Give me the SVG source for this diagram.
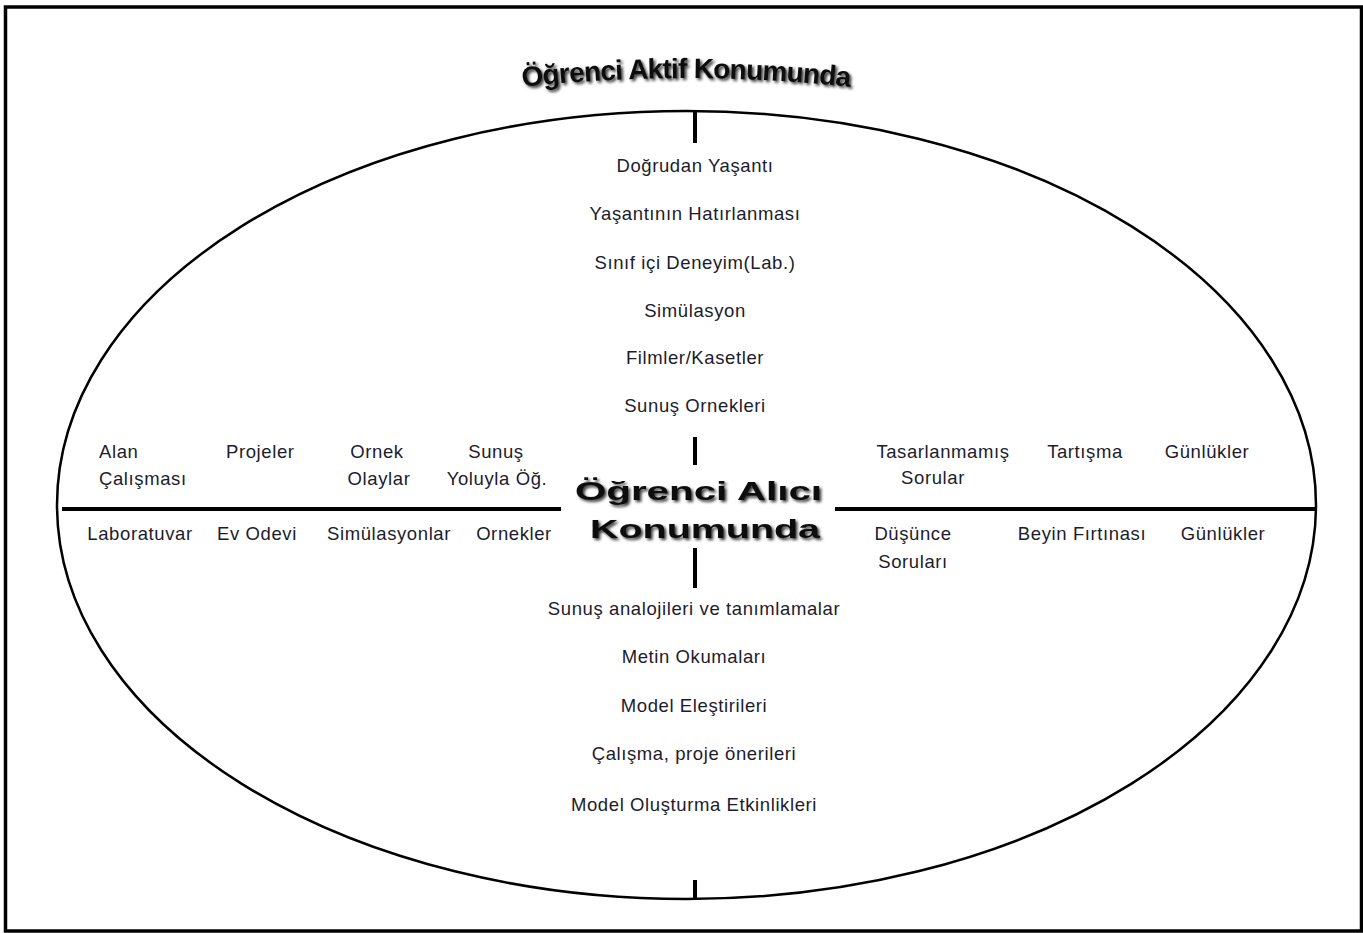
<svg xmlns="http://www.w3.org/2000/svg" width="1363" height="933" viewBox="0 0 1363 933">
<style>
.t{font-family:"Liberation Sans",Arial,sans-serif;font-size:18.5px;letter-spacing:0.6px;fill:#1c1c2c}
.m{text-anchor:middle}
.h{font-family:"Liberation Sans",Arial,sans-serif;font-weight:bold;fill:#111}
.ln{stroke:#000;stroke-width:4;fill:none}
</style>
<defs>
<filter id="sh" x="-10%" y="-30%" width="120%" height="160%">
<feGaussianBlur in="SourceAlpha" stdDeviation="1.8" result="b"/>
<feOffset in="b" dx="2" dy="2" result="o"/>
<feComponentTransfer in="o" result="s"><feFuncA type="linear" slope="0.8"/></feComponentTransfer>
<feGaussianBlur in="SourceGraphic" stdDeviation="0.6" result="g"/>
<feMerge><feMergeNode in="s"/><feMergeNode in="g"/></feMerge>
</filter>
<path id="arc" d="M 496 90 A 1520 1520 0 0 1 876 90"/>
</defs>
<rect x="5.5" y="7" width="1356" height="924" fill="#fff" stroke="#000" stroke-width="3.5"/>
<g id="connectors">
<ellipse cx="686.5" cy="505" rx="629.5" ry="394" fill="none" stroke="#000" stroke-width="2.5"/>
<line class="ln" x1="62" y1="509" x2="561" y2="509"/>
<line class="ln" x1="835" y1="509" x2="1316" y2="509"/>
<line class="ln" x1="695" y1="111" x2="695" y2="143"/>
<line class="ln" x1="695" y1="437" x2="695" y2="465"/>
<line class="ln" x1="695" y1="548" x2="695" y2="588"/>
<line class="ln" x1="695" y1="880" x2="695" y2="899"/>
</g>
<g id="title" filter="url(#sh)">
<text class="h" font-size="28" letter-spacing="-0.8"><textPath href="#arc" startOffset="50%" text-anchor="middle">Öğrenci Aktif Konumunda</textPath></text>
</g>
<g id="center" filter="url(#sh)">
<text class="h" font-size="26" x="575" y="500" textLength="247" lengthAdjust="spacingAndGlyphs">Öğrenci Alıcı</text>
<text class="h" font-size="26" x="590" y="538" textLength="230" lengthAdjust="spacingAndGlyphs">Konumunda</text>
</g>
<g id="top-list">
<text class="t m" x="695" y="172">Doğrudan Yaşantı</text>
<text class="t m" x="695" y="220">Yaşantının Hatırlanması</text>
<text class="t m" x="695" y="269">Sınıf içi Deneyim(Lab.)</text>
<text class="t m" x="695" y="317">Simülasyon</text>
<text class="t m" x="695" y="364">Filmler/Kasetler</text>
<text class="t m" x="695" y="412">Sunuş Ornekleri</text>
</g>
<g id="bottom-list">
<text class="t m" x="694" y="615">Sunuş analojileri ve tanımlamalar</text>
<text class="t m" x="694" y="663">Metin Okumaları</text>
<text class="t m" x="694" y="712">Model Eleştirileri</text>
<text class="t m" x="694" y="760">Çalışma, proje önerileri</text>
<text class="t m" x="694" y="811">Model Oluşturma Etkinlikleri</text>
</g>
<g id="left-upper">
<text class="t" x="99" y="458">Alan</text>
<text class="t" x="99" y="485">Çalışması</text>
<text class="t" x="226" y="458">Projeler</text>
<text class="t m" x="377" y="458">Ornek</text>
<text class="t m" x="379" y="485">Olaylar</text>
<text class="t m" x="496" y="458">Sunuş</text>
<text class="t m" x="497" y="485">Yoluyla Öğ.</text>
</g>
<g id="left-lower">
<text class="t m" x="140" y="540">Laboratuvar</text>
<text class="t m" x="257" y="540">Ev Odevi</text>
<text class="t m" x="389" y="540">Simülasyonlar</text>
<text class="t m" x="514" y="540">Ornekler</text>
</g>
<g id="right-upper">
<text class="t m" x="943" y="458">Tasarlanmamış</text>
<text class="t m" x="933" y="484">Sorular</text>
<text class="t m" x="1085" y="458">Tartışma</text>
<text class="t m" x="1207" y="458">Günlükler</text>
</g>
<g id="right-lower">
<text class="t m" x="913" y="540">Düşünce</text>
<text class="t m" x="913" y="568">Soruları</text>
<text class="t m" x="1082" y="540">Beyin Fırtınası</text>
<text class="t m" x="1223" y="540">Günlükler</text>
</g>
</svg>
